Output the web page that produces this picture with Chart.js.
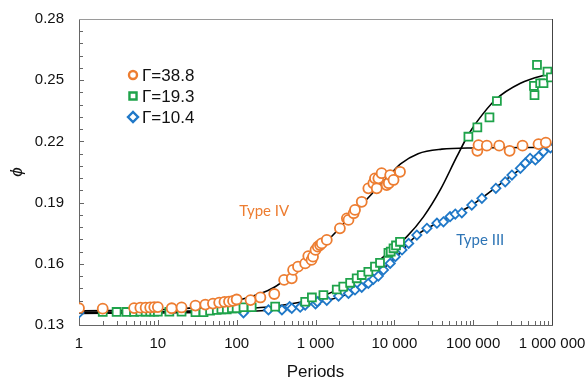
<!DOCTYPE html>
<html>
<head>
<meta charset="utf-8">
<script src="https://cdn.jsdelivr.net/npm/chart.js@4.4.1/dist/chart.umd.min.js"></script>
<style>
html,body{margin:0;padding:0;background:#fff;}
#wrap{width:588px;height:381px;}
</style>
</head>
<body>
<div id="wrap"><canvas id="c" width="588" height="381"></canvas></div>
<script>
// ---- data ----
const seriesNames = ['Γ=38.8', 'Γ=19.3', 'Γ=10.4'];

// Γ=38.8 (orange circles)
const p388 = [1,2,5,6,7,8,9,10,15,20,30,40,50,60,70,80,90,100,150,200,300,400,500,520,600,740,810,890,930,1000,1070,1140,1200,1390,2040,2500,2620,3050,3170,3860,4680,5420,5680,5980,6270,6900,8000,8500,8860,9770,11800,113000,117000,149000,214000,290000,423000,674000,835000];
const phi388 = [0.1382,0.1380,0.1383,0.1385,0.1385,0.1386,0.1388,0.1388,0.1382,0.1386,0.1395,0.1400,0.1405,0.1410,0.1413,0.1415,0.1418,0.1425,0.1422,0.1435,0.1452,0.1521,0.1529,0.1570,0.1586,0.1602,0.1638,0.1619,0.1635,0.1668,0.1684,0.1692,0.1700,0.1717,0.1774,0.1823,0.1815,0.1848,0.1864,0.1904,0.1970,0.1995,0.2019,0.1970,0.2019,0.2044,0.1986,0.1995,0.2035,0.2011,0.2051,0.2154,0.2182,0.2179,0.2179,0.2154,0.2179,0.2187,0.2194];

// Γ=19.3 (green squares)
const p193 = [2,3,4,5,6,7,8,9,10,14,20,30,38,46,56,64,75,87,100,122,155,308,740,900,1260,1860,2250,2750,3330,3860,4680,5680,6580,8420,9000,9770,10500,11800,87000,113000,161000,200000,590000,600000,645000,708000,780000,876000,970000];
const phi193 = [0.1364,0.1364,0.1364,0.1364,0.1365,0.1365,0.1365,0.1365,0.1365,0.1365,0.1365,0.1363,0.1363,0.1370,0.1374,0.1377,0.1377,0.1382,0.1382,0.1387,0.1387,0.1390,0.1414,0.1435,0.1447,0.1474,0.1488,0.1507,0.1529,0.1545,0.1561,0.1586,0.1605,0.1654,0.1660,0.1676,0.1690,0.1708,0.2223,0.2269,0.2318,0.2398,0.2472,0.2427,0.2575,0.2485,0.2485,0.2542,0.2514];

// Γ=10.4 (blue diamonds)
const p104 = [1,122,253,375,470,500,640,740,1000,1050,1390,1960,2620,3170,3860,4680,5420,6270,7280,8860,10300,12500,15200,19300,25900,34700,42000,50900,59300,71800,96000,129000,194000,255000,310000,397000,458000,527000,615000,677000,780000,955000];
const phi104 = [0.1359,0.1360,0.1374,0.1374,0.1390,0.1382,0.1387,0.1398,0.1403,0.1414,0.1421,0.1442,0.1455,0.1472,0.1485,0.1504,0.1524,0.1540,0.1570,0.1602,0.1635,0.1668,0.1700,0.1741,0.1774,0.1799,0.1806,0.1831,0.1844,0.1850,0.1888,0.1921,0.1970,0.2002,0.2035,0.2068,0.2093,0.2117,0.2109,0.2125,0.2150,0.2168];

// fitted curves (black)
const fitP388 = [1,10,30,100,300,1000,3000,10000,12000,20000,40000,100000,1000000];
const fitPhi388 = [0.1370,0.1375,0.1385,0.1420,0.1485,0.1655,0.1845,0.2060,0.2090,0.2140,0.2162,0.2168,0.2170];
const fitP193 = [1,10,100,300,1000,3000,10000,14400,23400,38200,62000,87500,112000,190000,398000,1000000];
const fitPhi193 = [0.1363,0.1365,0.1378,0.1392,0.1430,0.1515,0.1680,0.1733,0.1830,0.1962,0.2125,0.2235,0.2297,0.2403,0.2485,0.2535];
const fitP104 = [1,10,100,300,1000,3000,10000,20000,50000,100000,300000,1000000];
const fitPhi104 = [0.1357,0.1359,0.1365,0.1375,0.1408,0.1465,0.1625,0.1745,0.1828,0.1892,0.2030,0.2170];

// axes
const X_MAJOR = [1,10,100,1000,10000,100000,1000000];
const X_LABELS = ['1','10','100','1 000','10 000','100 000','1 000 000'];
const Y_MAJOR = [0.13,0.16,0.19,0.22,0.25,0.28];
const Y_LABELS = ['0.13','0.16','0.19','0.22','0.25','0.28'];
const Y_MINOR = [0.136,0.142,0.148,0.154,0.166,0.172,0.178,0.184,0.196,0.202,0.208,0.214,0.226,0.232,0.238,0.244,0.256,0.262,0.268,0.274];

// annotations
const notes = [
  {text:'Type IV', p:224, phi:0.1859, color:'#ED7D31'},
  {text:'Type III', p:123000, phi:0.1717, color:'#2E75B6'}
];

const ORANGE='#ED7D31', GREEN='#1EA34A', BLUE='#1F78C8';

const xy = (xs,ys)=>xs.map((x,i)=>({x, y:ys[i]}));
const X_MINOR = [];
X_MAJOR.slice(0,-1).forEach(d=>{ for(let k=2;k<=9;k++) X_MINOR.push(d*k); });
const X_ALL = X_MAJOR.concat(X_MINOR).sort((a,b)=>a-b);
const Y_ALL = Y_MAJOR.concat(Y_MINOR).sort((a,b)=>a-b);

const scatter = (label,data,color,style,r)=>({
  type:'scatter', label, data, pointStyle:style, pointRadius:r, pointHoverRadius:r,
  pointBorderColor:color, pointBackgroundColor:'#fff', pointBorderWidth:1.8, showLine:false
});
const fit = (data)=>({
  type:'line', label:'fit', data, borderColor:'#000', borderWidth:1.6, pointRadius:0,
  fill:false, cubicInterpolationMode:'monotone'
});

const decor = {
  id:'decor',
  afterDraw(chart){
    const {ctx, chartArea:a, scales:{x,y}} = chart;
    ctx.save();
    // inward ticks
    ctx.strokeStyle='#666'; ctx.lineWidth=1;
    ctx.beginPath();
    X_ALL.forEach(v=>{
      const px=Math.round(x.getPixelForValue(v))+0.5;
      const len=X_MAJOR.includes(v)?5:4;
      ctx.moveTo(px,a.bottom); ctx.lineTo(px,a.bottom-len);
    });
    Y_ALL.forEach(v=>{
      const py=Math.round(y.getPixelForValue(v))+0.5;
      const len=Y_MAJOR.includes(v)?5:4;
      ctx.moveTo(a.left,py); ctx.lineTo(a.left+len,py);
    });
    ctx.stroke();
    // top / right frame
    ctx.beginPath(); ctx.strokeStyle='#9a9a9a';
    ctx.moveTo(a.left,Math.round(a.top)+0.5); ctx.lineTo(a.right,Math.round(a.top)+0.5); ctx.stroke();
    ctx.beginPath(); ctx.strokeStyle='#444';
    ctx.moveTo(Math.round(a.right)+0.5,a.top); ctx.lineTo(Math.round(a.right)+0.5,a.bottom); ctx.stroke();

    // legend
    const styles=[['circle',4,ORANGE],['rect',5,GREEN],['rectRot',5,BLUE]];
    ctx.font='17px "Liberation Sans", Arial, sans-serif';
    ctx.textBaseline='middle'; ctx.textAlign='left';
    seriesNames.forEach((name,i)=>{
      const ly=a.top+56+i*21, lx=a.left+54;
      ctx.lineWidth=2.4; ctx.strokeStyle=styles[i][2]; ctx.fillStyle='#fff';
      Chart.helpers.drawPoint(ctx,{pointStyle:styles[i][0],radius:styles[i][1],borderWidth:2.4},lx,ly);
      ctx.fillStyle='#111';
      ctx.fillText(name,lx+9,ly+1);
    });

    // annotations
    ctx.font='15px Lato, "Open Sans", sans-serif';
    ctx.textAlign='center';
    notes.forEach(n=>{
      ctx.fillStyle=n.color;
      ctx.fillText(n.text,x.getPixelForValue(n.p),y.getPixelForValue(n.phi));
    });
    ctx.restore();
  }
};

new Chart(document.getElementById('c'),{
  data:{datasets:[
    scatter(seriesNames[0],xy(p388,phi388),ORANGE,'circle',5),
    scatter(seriesNames[1],xy(p193,phi193),GREEN,'rect',5.6),
    scatter(seriesNames[2],xy(p104,phi104),BLUE,'rectRot',4.6),
    fit(xy(fitP388,fitPhi388)),
    fit(xy(fitP193,fitPhi193)),
    fit(xy(fitP104,fitPhi104))
  ]},
  options:{
    responsive:false, animation:false, devicePixelRatio:1,
    layout:{padding:{left:0,top:19,right:36,bottom:0}},
    plugins:{legend:{display:false}, tooltip:{enabled:false}},
    scales:{
      x:{
        type:'logarithmic', min:1, max:1000000,
        afterBuildTicks:(s)=>{ s.ticks=X_ALL.map(v=>({value:v, major:X_MAJOR.includes(v)})); },
        afterFit:(s)=>{ s.height=56; s.paddingLeft=0; s.paddingRight=0; },
        grid:{display:false, drawTicks:false},
        border:{display:true, color:'#666', width:1},
        ticks:{
          autoSkip:false, maxRotation:0, padding:10, color:'#111',
          font:{family:'"Liberation Sans", Arial, sans-serif', size:15},
          callback:(v)=>{ const i=X_MAJOR.indexOf(v); return i>=0?X_LABELS[i]:''; }
        },
        title:{display:true, text:'Periods', color:'#111', padding:{top:0,bottom:-2},
          font:{family:'"Liberation Sans", Arial, sans-serif', size:17}}
      },
      y:{
        type:'linear', min:0.13, max:0.28,
        afterBuildTicks:(s)=>{ s.ticks=Y_ALL.map(v=>({value:v})); },
        afterFit:(s)=>{ s.width=79; s.paddingTop=0; s.paddingBottom=0; },
        grid:{display:false, drawTicks:false},
        border:{display:true, color:'#666', width:1},
        ticks:{
          autoSkip:false, padding:15, color:'#111',
          font:{family:'"Liberation Sans", Arial, sans-serif', size:15},
          callback:(v)=>{ const i=Y_MAJOR.findIndex(m=>Math.abs(m-v)<1e-6); return i>=0?Y_LABELS[i]:''; }
        },
        title:{display:true, text:'ϕ', color:'#111', padding:{top:7,bottom:0},
          font:{family:'"Liberation Sans", Arial, sans-serif', size:17, style:'italic'}}
      }
    }
  },
  plugins:[decor]
});
</script>
</body>
</html>
